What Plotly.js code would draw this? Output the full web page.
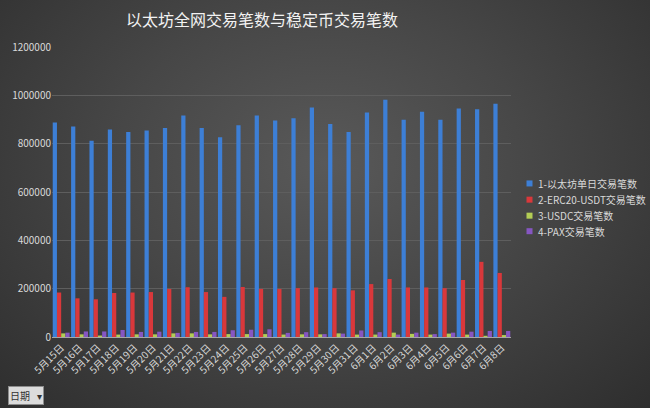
<!DOCTYPE html>
<html>
<head>
<meta charset="utf-8">
<script src="https://cdn.plot.ly/plotly-3.0.1.min.js"></script>
<style>
html,body{margin:0;padding:0;}
#chart{width:650px;height:408px;background:radial-gradient(ellipse at 50% 40%, #595959 0%, #474747 45%, #2e2e2e 100%);}
</style>
</head>
<body>
<div id="chart"></div>
<script>
const dates = ["5月15日","5月16日","5月17日","5月18日","5月19日","5月20日","5月21日","5月22日","5月23日","5月24日","5月25日","5月26日","5月27日","5月28日","5月29日","5月30日","5月31日","6月1日","6月2日","6月3日","6月4日","6月5日","6月6日","6月7日","6月8日"];
const ethTx  = [888000,871000,812000,859000,848000,855000,865000,917000,865000,827000,876000,917000,896000,905000,950000,881000,848000,929000,982000,899000,932000,899000,946000,942000,965000];
const usdtTx = [184000,160000,156000,182000,184000,186000,199000,206000,186000,166000,207000,199000,199000,202000,205000,202000,193000,219000,240000,205000,205000,202000,236000,311000,265000];
const usdcTx = [15000,11000,6000,10000,11000,11000,15000,15000,11000,12000,12000,12000,10000,11000,11000,15000,10000,10000,18000,13000,10000,14000,10000,5000,8000];
const paxTx  = [18000,23000,23000,29000,21000,22000,17000,21000,21000,28000,30000,32000,17000,20000,12000,14000,27000,20000,10000,18000,12000,18000,22000,25000,25000];
const seriesNames = ["1-以太坊单日交易笔数","2-ERC20-USDT交易笔数","3-USDC交易笔数","4-PAX交易笔数"];
const colors = ["#3d7fd6","#d9383b","#b3cd55","#8656c2"];
const values = [ethTx, usdtTx, usdcTx, paxTx];

const traces = values.map((v,i)=>({
  type:"bar", x:dates, y:v, name:seriesNames[i],
  marker:{color:colors[i]}
}));

const font = "'Noto Sans CJK SC', 'Noto Sans', sans-serif";

// legend drawn beside the plot (paper coordinates derived from pixel layout)
const plotL = 52, plotW = 459, plotB = 336.7, plotH = 289.7;
const px2x = p => (p - plotL) / plotW;
const px2y = p => (plotB - p) / plotH;
const legendRows = [183.3, 199.5, 215.5, 231];
const shapes = [], annotations = [];
seriesNames.forEach((n,i)=>{
  const c = legendRows[i];
  shapes.push({type:"rect", xref:"paper", yref:"paper", x0:px2x(526.5), x1:px2x(532.5), y0:px2y(c+3), y1:px2y(c-3), fillcolor:colors[i], line:{width:0}});
  annotations.push({text:n, xref:"paper", yref:"paper", x:px2x(536), y:px2y(c), xanchor:"left", yanchor:"middle", showarrow:false, font:{size:10, color:"#d9d9d9", family:font}});
});
annotations.push({
  text:"日期 &nbsp; ▾", xref:"paper", yref:"paper", x:px2x(8), y:px2y(395), xanchor:"left", yanchor:"middle",
  showarrow:false, font:{size:10, color:"#333333", family:font}, bgcolor:"#dcdcdc", bordercolor:"#8c8c8c", borderwidth:1, borderpad:1
});

const layout = {
  width:650, height:408,
  paper_bgcolor:"rgba(0,0,0,0)", plot_bgcolor:"rgba(0,0,0,0)",
  margin:{l:52, r:139, t:47, b:71},
  font:{family:font, color:"#d9d9d9", size:10},
  title:{text:"以太坊全网交易笔数与稳定币交易笔数", font:{family:font, size:16, color:"#f2f2f2"}, x:0.403, xanchor:"center", y:0.951, yanchor:"middle", yref:"container"},
  barmode:"group", bargap:0.08, bargroupgap:0,
  xaxis:{type:"category", tickangle:-45, showgrid:false, showline:true, linecolor:"#a6a6a6", linewidth:1, ticks:"", tickfont:{size:10, color:"#d9d9d9"}},
  yaxis:{range:[0,1200000], dtick:200000, tickformat:"d", showgrid:true, gridcolor:"#5e5e5e", gridwidth:1, zeroline:false, showline:false, ticks:"", tickfont:{size:10, color:"#d9d9d9"}},
  showlegend:false,
  shapes:shapes,
  annotations:annotations
};
Plotly.newPlot("chart", traces, layout, {displayModeBar:false, staticPlot:true});
</script>
</body>
</html>
